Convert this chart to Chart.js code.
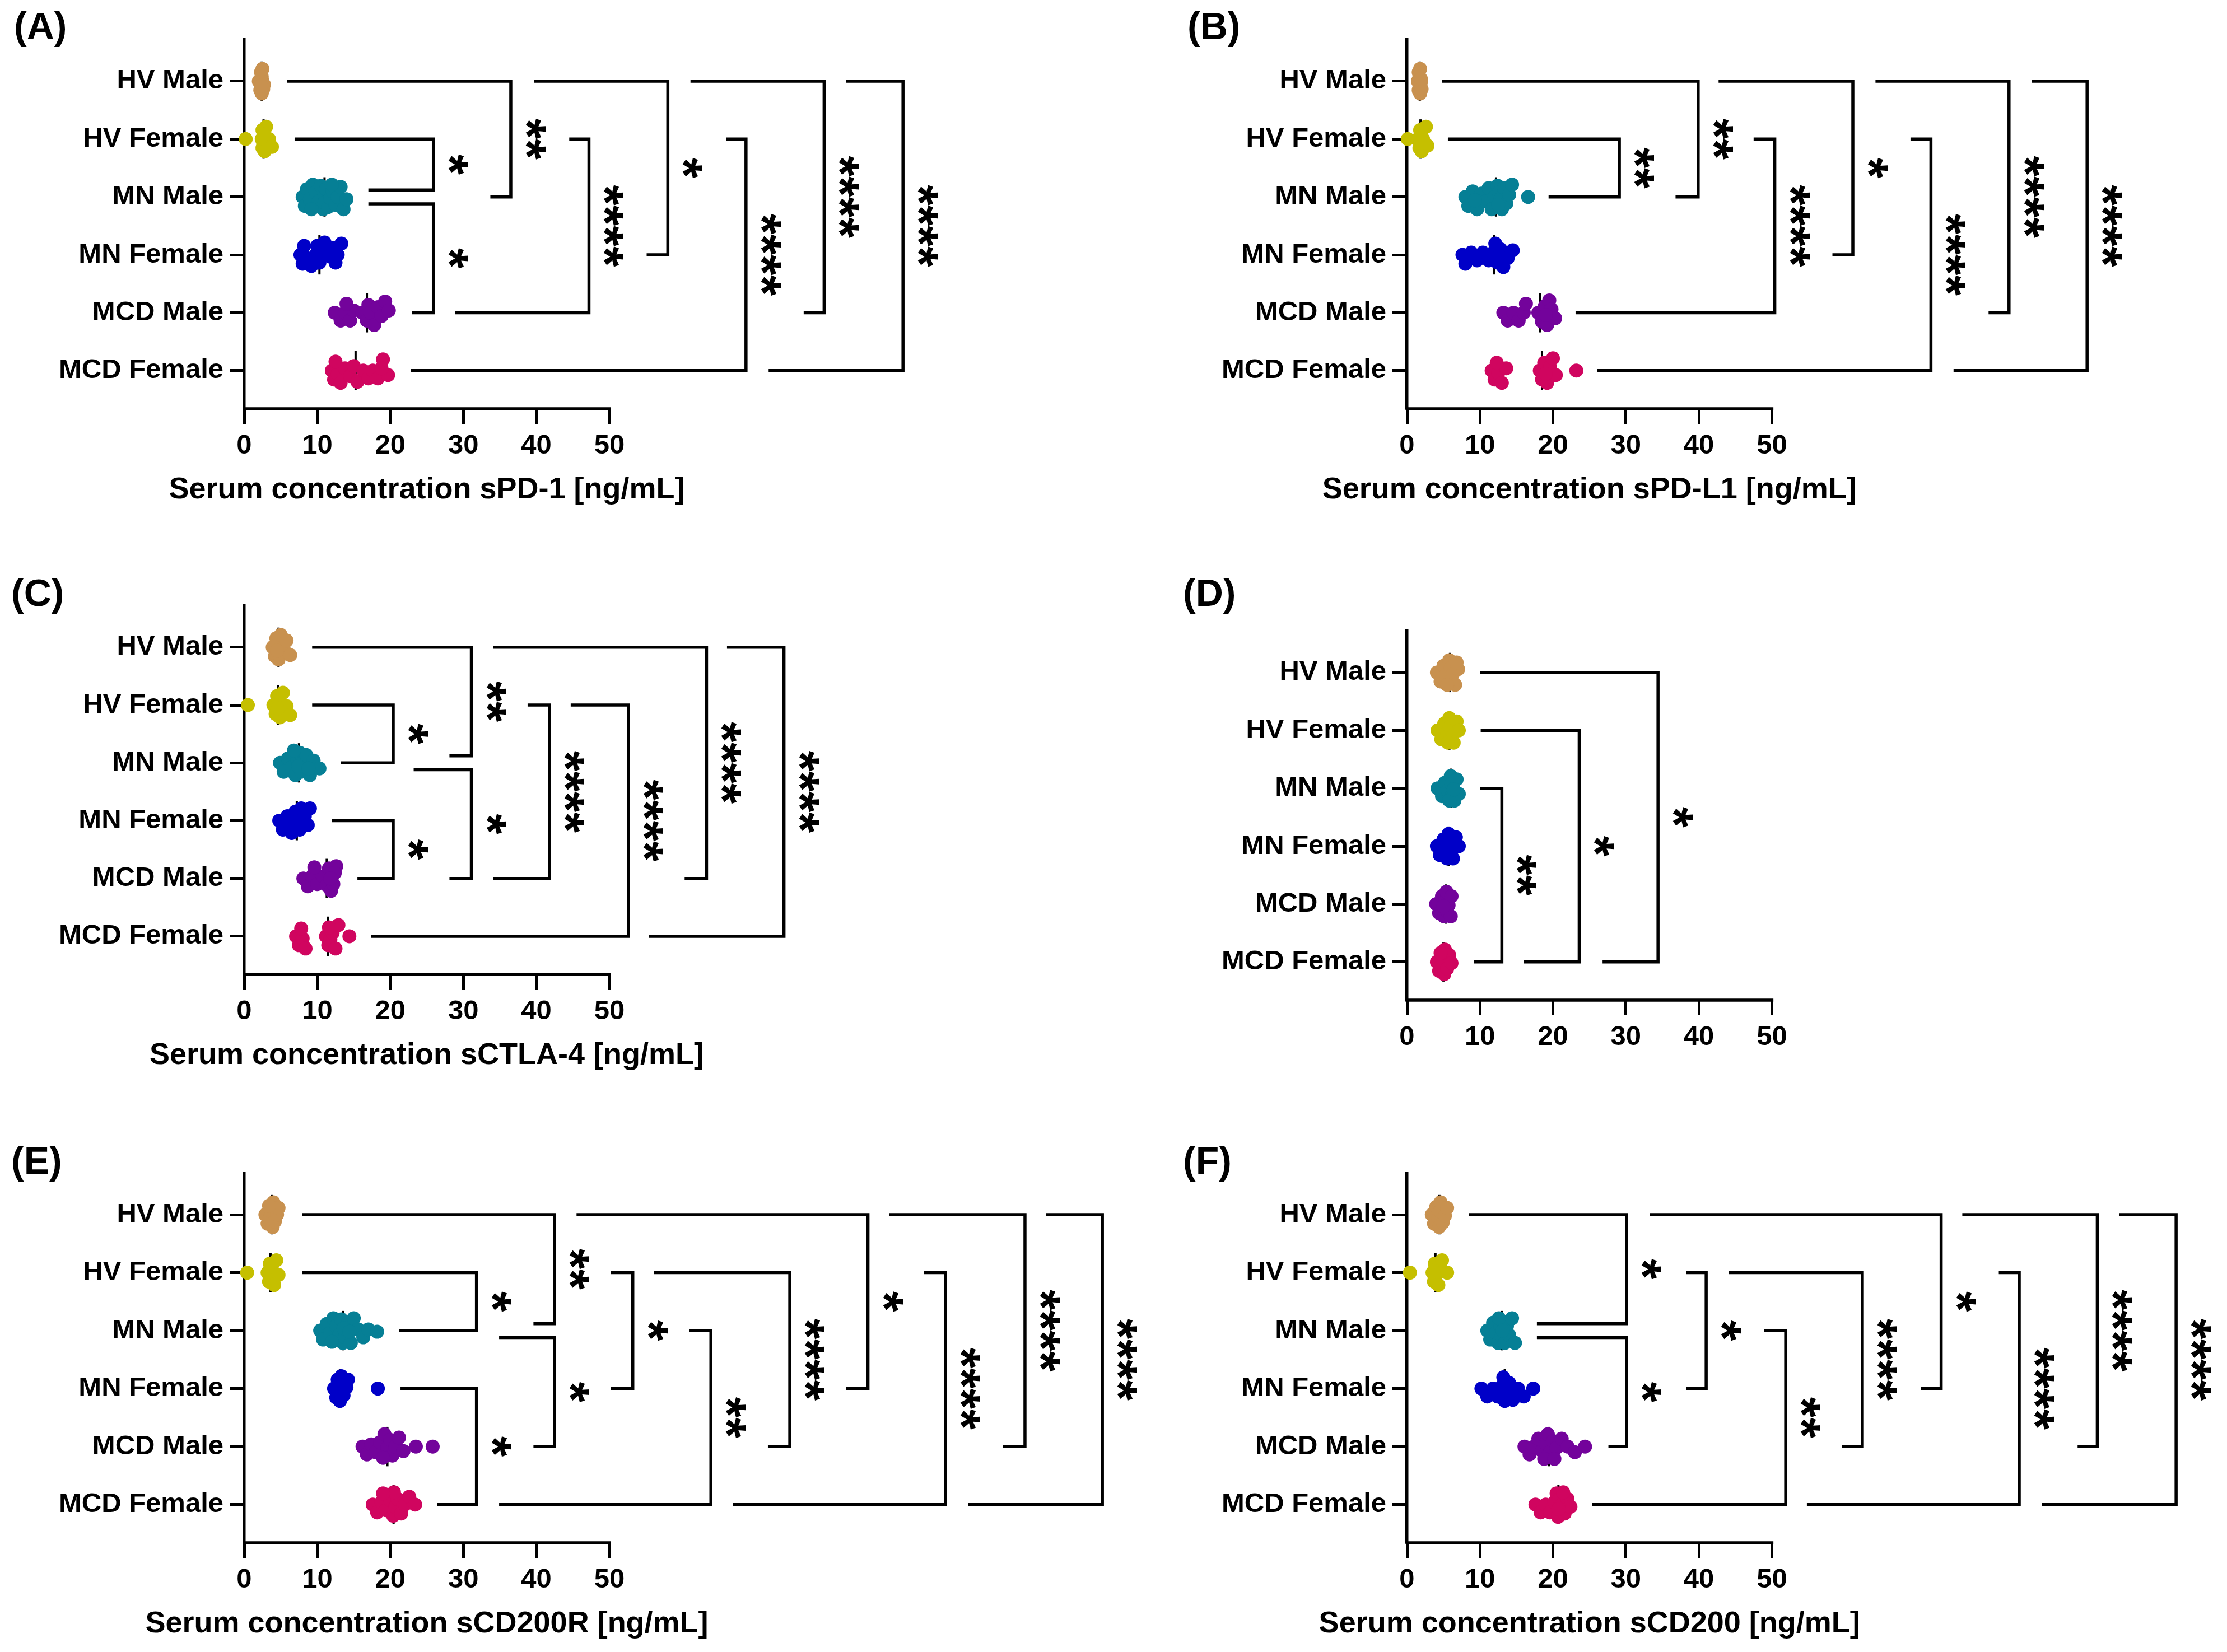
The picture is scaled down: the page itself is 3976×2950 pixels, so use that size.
<!DOCTYPE html>
<html lang="en">
<head>
<meta charset="UTF-8">
<title>Serum concentrations by group and sex</title>
<script src="https://cdn.jsdelivr.net/npm/chart.js"></script>
<style>
body{margin:0;background:#fff;}
#fig{position:relative;width:3976px;height:2950px;background:#fff;overflow:hidden;}
#fig canvas{position:absolute;}
.tag{position:absolute;font:bold 68px/68px "Liberation Sans",Arial,sans-serif;color:#000;white-space:nowrap;}
</style>
</head>
<body>
<div id="fig"></div>
<script>
/* ── data ───────────────────────────────────────────────────────── */
const GROUPS=["HV Male","HV Female","MN Male","MN Female","MCD Male","MCD Female"];
const COLORS=["#C8914F","#C5BF00","#067F95","#0000C8","#73039B","#D0055F"];
const X_TICKS=[0,10,20,30,40,50];

// one list per group, same order as GROUPS
const SPD1=[
  [2.0,2.2,2.3,2.4,2.4,2.5,2.6,2.7,2.5,2.3],
  [0.2,2.4,2.5,2.6,2.8,3.0,3.4,3.8,2.5,2.7],
  [8.0,8.3,8.6,9.0,9.4,9.8,10.2,10.5,10.8,11.0,11.0,11.2,11.5,11.8,12.1,12.5,12.8,13.2,13.6,14.0,9.2,12.0],
  [7.7,8.2,8.6,9.2,9.8,10.0,10.3,10.5,11.0,11.6,12.2,12.8,13.3,8.0,12.5],
  [12.4,13.2,13.8,14.5,15.0,16.2,16.8,17.0,17.3,17.8,18.3,18.8,19.3,19.8,14.0],
  [12.0,12.3,12.8,13.2,13.8,14.5,15.0,15.5,16.3,17.0,17.6,18.3,19.0,19.7,12.5,18.8]
];
const SPDL1=[
  [1.5,1.6,1.7,1.7,1.8,1.8,1.9,2.0,1.6,1.9],
  [0.1,1.5,1.7,1.8,1.9,2.0,2.2,2.6,2.8,1.8],
  [8.0,8.4,9.0,9.6,10.2,10.8,11.2,11.6,12.0,12.4,12.6,12.8,13.0,13.3,13.6,14.0,14.4,16.6,12.5,9.3],
  [7.6,8.0,8.8,9.6,10.4,11.2,11.8,12.1,12.4,12.8,13.2,13.8,14.5,12.6],
  [13.2,13.8,14.6,15.3,16.0,16.3,18.0,18.5,18.9,19.2,19.5,19.8,20.3,19.0],
  [11.6,12.0,12.5,13.0,13.6,18.2,18.5,18.8,19.2,19.6,20.0,20.4,23.2,12.3,19.0]
];
const SCTLA4=[
  [3.9,4.2,4.4,4.6,4.7,4.8,5.0,5.4,5.8,6.3,4.5],
  [0.5,4.0,4.3,4.5,4.7,4.9,5.3,5.8,6.3,4.6],
  [4.9,5.4,6.0,6.5,7.0,7.3,7.6,7.8,8.1,8.5,9.0,9.5,10.3,7.4,6.8,8.8],
  [4.8,5.3,5.9,6.5,7.0,7.4,7.8,8.3,8.7,9.0,6.2,7.6],
  [8.1,8.7,9.3,10.0,10.8,11.3,11.6,11.9,12.2,12.6,12.4,9.6,11.8],
  [7.1,7.5,8.0,8.4,7.8,11.2,11.5,11.8,12.1,12.5,12.9,14.4,11.6]
];
const PANEL_D=[
  [4.1,4.6,5.0,5.4,5.8,6.0,6.1,6.3,6.6,7.0,5.5,6.8],
  [4.2,4.7,5.1,5.5,5.8,5.9,6.1,6.4,6.8,7.1,5.6],
  [4.2,4.8,5.2,5.6,6.0,6.1,6.2,6.5,6.8,7.1,5.8,6.4],
  [4.1,4.5,5.0,5.4,5.7,5.8,6.0,6.3,6.7,7.1,5.5],
  [4.0,4.4,4.8,5.1,5.3,5.4,5.5,5.7,6.0,6.1,5.0],
  [4.1,4.4,4.7,4.9,5.1,5.2,5.5,5.8,6.1,4.6]
];
const SCD200R=[
  [2.9,3.2,3.5,3.7,3.9,4.0,4.2,4.5,4.7,3.4],
  [0.4,3.2,3.4,3.5,3.6,3.8,4.1,4.4,4.7],
  [10.4,10.8,11.3,11.8,12.2,12.6,13.0,13.3,13.5,13.8,14.2,14.6,15.0,15.6,16.3,17.0,18.2,12.0,13.6,14.4],
  [12.3,12.6,12.8,13.0,13.1,13.3,13.6,14.0,14.2,18.3,12.9],
  [16.2,16.8,17.4,18.0,18.6,19.2,19.6,20.0,20.3,20.7,21.2,21.8,23.5,25.8,19.0],
  [17.6,18.2,18.8,19.4,20.0,20.4,20.7,21.0,21.5,22.0,22.6,23.4,20.5,19.0]
];
const SCD200=[
  [3.4,3.7,4.0,4.3,4.4,4.5,4.6,4.9,5.2,5.5],
  [0.4,3.5,3.7,3.8,3.9,4.0,4.3,4.8,5.5],
  [11.0,11.4,11.8,12.2,12.5,12.8,13.0,13.2,13.4,13.7,14.0,14.4,14.8,12.6,13.1],
  [10.2,11.0,11.8,12.4,13.0,13.4,13.7,14.0,14.5,15.2,16.0,17.3,13.2],
  [16.1,16.8,17.4,18.0,18.5,19.0,19.3,19.6,20.0,20.5,21.2,22.0,23.0,24.4,18.8,20.2],
  [17.6,18.3,19.0,19.6,20.2,20.5,20.7,20.9,21.2,21.6,22.0,22.4,20.8,21.4]
];

// significance brackets: [group from, x start, group to, x end, x of vertical, label]
const BR_A=[
  [1,6.9,1.88,17.0,25.9,"*"],
  [2.12,17.0,4,23.0,25.9,"*"],
  [0,5.9,2,33.7,36.5,"**"],
  [1,44.5,4,28.9,47.2,"****"],
  [0,39.7,3,55.1,58.0,"*"],
  [1,66.0,5,22.8,68.7,"****"],
  [0,61.1,4,76.6,79.4,"****"],
  [0,82.4,5,71.8,90.2,"****"]
];
const BR_B=[
  [1,5.6,2,19.4,29.1,"**"],
  [0,4.8,2,36.8,39.9,"**"],
  [1,47.5,4,23.1,50.4,"****"],
  [0,42.7,3,58.3,61.1,"*"],
  [1,69.0,5,26.1,71.8,"****"],
  [0,64.2,4,79.7,82.5,"****"],
  [0,85.6,5,74.9,93.2,"****"]
];
const BR_C=[
  [1,9.3,2,13.2,20.4,"*"],
  [3,12.0,4,15.5,20.4,"*"],
  [0,9.3,1.88,28.1,31.1,"**"],
  [2.12,23.2,4,28.1,31.1,"*"],
  [1,38.8,4,34.1,41.8,"****"],
  [1,44.7,5,17.4,52.6,"****"],
  [0,34.1,4,60.3,63.3,"****"],
  [0,66.1,5,55.4,73.9,"****"]
];
const BR_D=[
  [2,10.0,5,9.2,13.0,"**"],
  [1,10.1,5,16.0,23.6,"*"],
  [0,10.0,5,26.8,34.4,"*"]
];
const BR_E=[
  [1,7.9,2,21.2,31.8,"*"],
  [0,7.9,1.88,39.6,42.5,"**"],
  [2.12,34.9,4,39.6,42.5,"*"],
  [3,21.4,5,26.4,31.8,"*"],
  [1,50.2,3,50.2,53.2,"*"],
  [2,60.9,5,34.9,63.9,"**"],
  [1,56.1,4,71.7,74.7,"****"],
  [0,45.5,3,82.4,85.4,"*"],
  [1,93.1,5,66.9,96.0,"****"],
  [0,88.3,4,103.9,106.9,"****"],
  [0,109.8,5,99.1,117.5,"****"]
];
const BR_F=[
  [0,8.5,1.88,17.8,30.1,"*"],
  [2.12,17.8,4,27.6,30.1,"*"],
  [1,38.3,3,38.3,41.0,"*"],
  [2,48.9,5,25.4,51.9,"**"],
  [1,44.1,4,59.6,62.4,"****"],
  [0,33.3,3,70.4,73.2,"*"],
  [1,81.1,5,54.8,83.9,"****"],
  [0,76.1,4,91.9,94.6,"****"],
  [0,97.6,5,87.0,105.4,"****"]
];

/* ── layout ─────────────────────────────────────────────────────── */
const FONT='"Liberation Sans", Arial, sans-serif';
const PXU=13.14;      // px per ng/mL
const PYU=103.4;      // px per group row
const YW=436;         // y axis box width
const XH=110;         // x axis box height
const R=12.5, MIN_GAP=16, MAX_DY=22;

const PANELS=[
  {tag:"(A)",tx:25,  ty:12,  data:SPD1,   br:BR_A,title:"Serum concentration sPD-1 [ng/mL]",   x:0,   y:0,   w:2076,h:1000,top:71, bottom:730},
  {tag:"(B)",tx:2120,ty:12,  data:SPDL1,  br:BR_B,title:"Serum concentration sPD-L1 [ng/mL]",  x:2076,y:0,   w:1900,h:1000,top:71, bottom:730},
  {tag:"(C)",tx:20,  ty:1024,data:SCTLA4, br:BR_C,title:"Serum concentration sCTLA-4 [ng/mL]", x:0,   y:1000,w:2076,h:1000,top:82, bottom:740},
  {tag:"(D)",tx:2112,ty:1024,data:PANEL_D,br:BR_D,title:null,                                  x:2076,y:1000,w:1900,h:1000,top:127,bottom:786},
  {tag:"(E)",tx:20,  ty:2038,data:SCD200R,br:BR_E,title:"Serum concentration sCD200R [ng/mL]", x:0,   y:2000,w:2076,h:950, top:95, bottom:755},
  {tag:"(F)",tx:2112,ty:2038,data:SCD200, br:BR_F,title:"Serum concentration sCD200 [ng/mL]",  x:2076,y:2000,w:1900,h:950, top:95, bottom:755}
];

/* ── helpers ────────────────────────────────────────────────────── */
// deterministic beeswarm, capped height: vertical offset (row units) per value
function swarm(vals){
  const pts=[],off=new Array(vals.length);
  const idx=vals.map((_,i)=>i).sort((a,b)=>vals[a]-vals[b]);
  for(const i of idx){
    const px=vals[i]*PXU;
    let pick=null,best=0,bestD=-1;
    for(let k=0;;k++){
      const dy=(k%2?1:-1)*Math.ceil(k/2)*2;
      if(Math.abs(dy)>MAX_DY)break;
      const d=pts.length?Math.min(...pts.map(p=>Math.hypot(p.x-px,p.y-dy))):1e9;
      if(d>=MIN_GAP){pick=dy;break;}
      if(d>bestD){bestD=d;best=dy;}
    }
    const dy=pick===null?best:pick;
    pts.push({x:px,y:dy});
    off[i]=dy/PYU;
  }
  return off;
}
const median=v=>{const s=[...v].sort((a,b)=>a-b),n=s.length;return n%2?s[(n-1)/2]:(s[n/2-1]+s[n/2])/2;};

const bracketPlugin={
  id:"brackets",
  beforeDatasetsDraw(chart,args,o){
    const {ctx,scales:{x,y}}=chart;
    ctx.save();
    ctx.strokeStyle="#000";ctx.lineWidth=4;
    o.groups.forEach((vals,g)=>{
      const px=x.getPixelForValue(median(vals));
      ctx.beginPath();
      ctx.moveTo(px,y.getPixelForValue(g-0.34));
      ctx.lineTo(px,y.getPixelForValue(g+0.34));
      ctx.stroke();
    });
    ctx.restore();
  },
  afterDraw(chart,args,o){
    const {ctx,chartArea:a,scales:{x,y}}=chart;
    ctx.save();
    ctx.strokeStyle="#000";ctx.fillStyle="#000";ctx.lineWidth=5.5;
    // x axis line only over 0–50
    ctx.lineCap="square";
    ctx.beginPath();
    ctx.moveTo(x.getPixelForValue(0),a.bottom);
    ctx.lineTo(x.getPixelForValue(50),a.bottom);
    ctx.stroke();

    ctx.lineCap="butt";ctx.lineJoin="miter";
    ctx.font=`bold 94px ${FONT}`;
    const m=ctx.measureText("*");
    const dy=(m.actualBoundingBoxAscent-m.actualBoundingBoxDescent)/2;
    o.list.forEach(([g1,x1,g2,x2,xv,lab])=>{
      const y1=y.getPixelForValue(g1),y2=y.getPixelForValue(g2),pv=x.getPixelForValue(xv);
      ctx.beginPath();
      ctx.moveTo(x.getPixelForValue(x1),y1);
      ctx.lineTo(pv,y1);ctx.lineTo(pv,y2);
      ctx.lineTo(x.getPixelForValue(x2),y2);
      ctx.stroke();
      ctx.save();
      ctx.translate(pv+44,(y1+y2)/2);
      ctx.rotate(Math.PI/2);
      ctx.textAlign="center";ctx.textBaseline="alphabetic";
      ctx.fillText(lab,0,dy);
      ctx.restore();
    });

    if(o.title){
      ctx.font=`bold 54px ${FONT}`;
      ctx.textAlign="center";ctx.textBaseline="middle";
      ctx.fillText(o.title,(x.getPixelForValue(0)+x.getPixelForValue(50))/2,a.bottom+145);
    }
    ctx.restore();
  }
};

/* ── build ──────────────────────────────────────────────────────── */
Chart.defaults.font.family=FONT;
Chart.defaults.font.weight="bold";
Chart.defaults.color="#000";
Chart.defaults.animation=false;

const fig=document.getElementById("fig");
PANELS.forEach(p=>{
  const tag=document.createElement("div");
  tag.className="tag";tag.textContent=p.tag;
  tag.style.left=p.tx+"px";tag.style.top=p.ty+"px";
  fig.appendChild(tag);

  const cv=document.createElement("canvas");
  cv.width=p.w;cv.height=p.h;
  cv.style.left=p.x+"px";cv.style.top=p.y+"px";
  cv.style.width=p.w+"px";cv.style.height=p.h+"px";
  fig.appendChild(cv);

  const datasets=GROUPS.map((g,i)=>{
    const off=swarm(p.data[i]);
    return {
      label:g,
      data:p.data[i].map((v,k)=>({x:v,y:i+off[k]})),
      backgroundColor:COLORS[i],
      borderWidth:0,
      pointRadius:R,pointHoverRadius:R,
      clip:false
    };
  });

  new Chart(cv,{
    type:"scatter",
    data:{datasets},
    options:{
      responsive:false,
      events:[],
      layout:{padding:{top:p.top,bottom:p.h-p.bottom-XH,left:0,right:0}},
      plugins:{
        legend:{display:false},
        tooltip:{enabled:false},
        brackets:{list:p.br,groups:p.data,title:p.title}
      },
      scales:{
        x:{
          type:"linear",min:0,max:(p.w-YW)/PXU,
          afterBuildTicks:s=>{s.ticks=X_TICKS.map(v=>({value:v}));},
          afterFit:s=>{s.height=XH;s.paddingLeft=0;s.paddingRight=0;},
          grid:{drawOnChartArea:false,drawTicks:true,tickLength:27,tickWidth:5,tickColor:"#000"},
          border:{display:false},
          ticks:{autoSkip:false,maxRotation:0,padding:10,color:"#000",font:{size:49,weight:"bold"}}
        },
        y:{
          type:"linear",reverse:true,min:-0.715,max:5.66,
          afterBuildTicks:s=>{s.ticks=GROUPS.map((g,i)=>({value:i}));},
          afterFit:s=>{s.width=YW;s.paddingTop=0;s.paddingBottom=0;},
          grid:{drawOnChartArea:false,drawTicks:true,tickLength:26,tickWidth:5,tickColor:"#000"},
          border:{display:true,width:5.5,color:"#000"},
          ticks:{autoSkip:false,padding:11,color:"#000",font:{size:49,weight:"bold"},callback:v=>GROUPS[v]}
        }
      }
    },
    plugins:[bracketPlugin]
  });
});
</script>
</body>
</html>
